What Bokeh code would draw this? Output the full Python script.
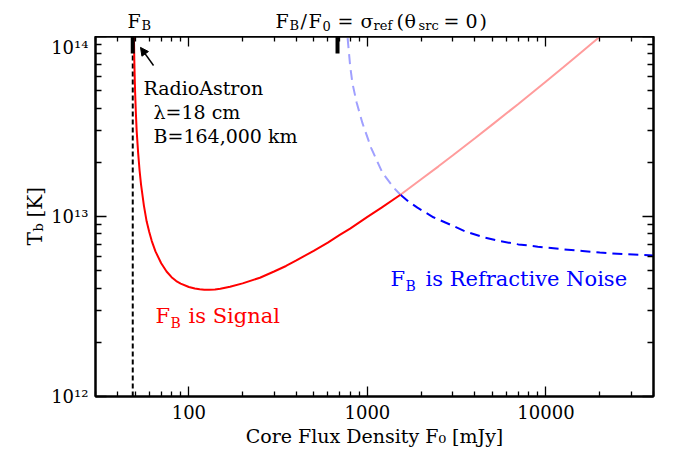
from math import pi
from bokeh.plotting import figure
from bokeh.layouts import row, column
from bokeh.models import (Range1d, FixedTicker, LogAxis, Label, Arrow, NormalHead,
                          BasicTickFormatter)
from bokeh.embed import file_html
from bokeh.resources import INLINE

FONT = "DejaVu Serif"

# ---------------- data ----------------
X_MIN, X_MAX = 30, 40000
Y_MIN, Y_MAX = 1e12, 1e14

x_major = [100, 1000, 10000]
x_labels = ["100", "1000", "10000"]
x_minor = [30, 40, 50, 60, 70, 80, 90,
           200, 300, 400, 500, 600, 700, 800, 900,
           2000, 3000, 4000, 5000, 6000, 7000, 8000, 9000,
           20000, 30000, 40000]
y_major = [1e12, 1e13, 1e14]
y_labels = ["10¹²", "10¹³", "10¹⁴"]
y_minor = [2e12, 3e12, 4e12, 5e12, 6e12, 7e12, 8e12, 9e12,
           2e13, 3e13, 4e13, 5e13, 6e13, 7e13, 8e13, 9e13]

F_B = 48.5            # RadioAstron F_B (mJy)
F_B_over_sigma = 680  # F_B / sigma_ref(theta_src = 0)

# F_B is signal (red), solid part and continuation (pale)
signal_f0 = [49.1, 49.5, 49.8, 50, 50.5, 51, 52, 53, 54, 56, 58, 60, 62, 65, 70,
             75, 80, 85, 90, 100, 108, 115, 122, 130, 140, 150, 170, 200, 250,
             300, 350, 400, 500, 600, 700, 800, 1000, 1200, 1531]
signal_tb = [1.2e14, 7.3e13, 5.65e13, 4.9e13, 3.75e13, 3.0e13, 2.25e13, 1.79e13,
             1.5e13, 1.15e13, 9.4e12, 8.2e12, 7.3e12, 6.4e12, 5.5e12,
             4.95e12, 4.6e12, 4.38e12, 4.24e12, 4.06e12, 3.98e12, 3.94e12,
             3.92e12, 3.92e12, 3.93e12, 3.97e12, 4.07e12, 4.25e12, 4.57e12,
             4.95e12, 5.31e12, 5.7e12, 6.45e12, 7.16e12, 7.9e12, 8.56e12,
             9.95e12, 1.12e13, 1.32e13]
signal_hi_f0 = [1531, 2000, 2500, 3000, 4000, 5000, 7000, 10000, 12500, 15000,
                20000, 21000]
signal_hi_tb = [1.32e13, 1.61e13, 1.9e13, 2.18e13, 2.72e13, 3.24e13, 4.22e13,
                5.63e13, 6.75e13, 7.85e13, 9.96e13, 1.04e14]

# F_B is refractive noise (blue): pale part and solid part
noise_lo_f0 = [760, 773, 800, 824, 870, 938, 1050, 1213, 1399, 1531]
noise_lo_tb = [1.2e14, 1.0e14, 6.9e13, 5.5e13, 4.3e13, 3.3e13, 2.4e13, 1.75e13,
               1.45e13, 1.32e13]
noise_f0 = [1531, 1700, 1905, 2342, 2917, 3500, 4400, 5500, 7000, 9000, 12000,
            16000, 20000, 28000, 40000]
noise_tb = [1.32e13, 1.21e13, 1.12e13, 9.9e12, 9.0e12, 8.3e12, 7.7e12, 7.3e12,
            7.0e12, 6.8e12, 6.6e12, 6.43e12, 6.3e12, 6.17e12, 6.07e12]

arrow_tail = (63.4, 6.9e13)
arrow_head = (53.6, 8.7e13)

# ---------------- layout geometry (screenshot pixels) ----------------
LEFT_W = 48            # strip holding the y-axis title
HEAD_H = 36            # strip holding the top annotations
MAIN_W, MAIN_H = 624, 416
FRAME_L, FRAME_R = 95, 653
FRAME_T, FRAME_B = 36, 396
BORDER_L = FRAME_L - LEFT_W
BORDER_R = LEFT_W + MAIN_W - FRAME_R
BORDER_B = HEAD_H + MAIN_H - FRAME_B
PX_PER_DEC = 180.0
TICK_LEN = 17

RED, PINK = "#ff0000", "#ff9c9c"
BLUE, LBLUE = "#0000ff", "#a0a0ff"

# ---------------- main figure ----------------
p = figure(width=MAIN_W, height=MAIN_H, x_axis_type="log", y_axis_type="log",
           x_range=Range1d(X_MIN, X_MAX), y_range=Range1d(Y_MIN, Y_MAX),
           output_backend="svg", toolbar_location=None,
           min_border_left=BORDER_L, min_border_right=BORDER_R,
           min_border_top=0, min_border_bottom=BORDER_B)
p.grid.visible = False
p.outline_line_color = "black"
p.outline_line_width = 2
p.background_fill_color = "white"
p.border_fill_color = "white"


def style_axis(ax, major_in, minor_in):
    ax.axis_line_color = "black"
    ax.axis_line_width = 2
    ax.major_tick_in = major_in
    ax.major_tick_out = 0
    ax.minor_tick_in = minor_in
    ax.minor_tick_out = 0
    ax.major_tick_line_width = 1.3
    ax.minor_tick_line_width = 1.3
    ax.major_tick_line_color = "black"
    ax.minor_tick_line_color = "black"
    ax.major_label_text_font = FONT
    ax.major_label_text_font_size = "18px"
    ax.major_label_text_color = "black"


xt = FixedTicker(ticks=x_major, minor_ticks=x_minor)
yt = FixedTicker(ticks=y_major, minor_ticks=y_minor)

xb = p.below[0]
xb.ticker = xt
xb.formatter = BasicTickFormatter(use_scientific=False)
xb.major_label_overrides = dict(zip(x_major, x_labels))
style_axis(xb, 10, 5)
xb.major_label_standoff = 8
xb.axis_label = "Core Flux Density F₀ [mJy]"
xb.axis_label_text_font = FONT
xb.axis_label_text_font_size = "19px"
xb.axis_label_text_font_style = "normal"
xb.axis_label_text_color = "black"
xb.axis_label_standoff = 3

yl = p.left[0]
yl.ticker = yt
yl.formatter = BasicTickFormatter()
yl.major_label_overrides = dict(zip(y_major, y_labels))
style_axis(yl, 11, 6)
yl.major_label_standoff = 7
yl.axis_label = None

top = LogAxis(ticker=xt, formatter=BasicTickFormatter(use_scientific=False),
              major_label_overrides={t: "" for t in x_major})
style_axis(top, 10, 5)
top.major_label_text_font_size = "0px"
top.major_label_standoff = 0
p.add_layout(top, "above")

right = LogAxis(ticker=yt, formatter=BasicTickFormatter(),
                major_label_overrides={t: "" for t in y_major})
style_axis(right, 11, 6)
right.major_label_text_font_size = "0px"
right.major_label_standoff = 0
p.add_layout(right, "right")

p.segment(x0=[F_B], y0=[Y_MIN], x1=[F_B], y1=[Y_MAX], line_color="black",
          line_width=2, line_dash="5 3")
p.line(noise_lo_f0, noise_lo_tb, line_color=LBLUE, line_width=2, line_dash="10 6")
p.line(signal_hi_f0, signal_hi_tb, line_color=PINK, line_width=2)
p.line(noise_f0, noise_tb, line_color=BLUE, line_width=2, line_dash="10 6")
p.line(signal_f0, signal_tb, line_color=RED, line_width=2)

tick_end = Y_MAX * 10 ** (-TICK_LEN / PX_PER_DEC)
p.segment(x0=[F_B, F_B_over_sigma], y0=[Y_MAX, Y_MAX],
          x1=[F_B, F_B_over_sigma], y1=[tick_end, tick_end],
          line_color="black", line_width=4)

p.add_layout(Arrow(end=NormalHead(size=8, fill_color="black", line_color="black"),
                   x_start=arrow_tail[0], y_start=arrow_tail[1],
                   x_end=arrow_head[0], y_end=arrow_head[1],
                   line_color="black", line_width=1.5))


def put(text, px, py, size, color="black"):
    """Text inside the main frame, positioned in screenshot pixels."""
    p.add_layout(Label(x=X_MIN, y=Y_MIN, x_offset=px - FRAME_L,
                       y_offset=FRAME_B - py, text=text, text_font=FONT,
                       text_font_size=f"{size}px", text_color=color,
                       text_align="left", text_baseline="alphabetic"))


put("RadioAstron", 143, 87, 19)
put("λ=18 cm", 153, 111, 19)
put("B=164,000 km", 153, 135, 19)

put("F", 155, 315, 21, RED)
put("B", 170, 322, 14, RED)
put("is Signal", 188, 315, 21, RED)

put("F", 390, 278, 21, BLUE)
put("B", 405, 285, 14, BLUE)
put("is Refractive Noise", 425, 278, 21, BLUE)


# ---------------- strips for texts outside the frame ----------------
def strip(w, h, x0, x1, y0, y1, bl, br, bt, bb):
    f = figure(width=w, height=h, x_range=Range1d(x0, x1),
               y_range=Range1d(y1, y0), output_backend="svg",
               toolbar_location=None, x_axis_location=None,
               y_axis_location=None, min_border_left=bl, min_border_right=br,
               min_border_top=bt, min_border_bottom=bb)
    f.grid.visible = False
    f.outline_line_color = None
    f.background_fill_color = "white"
    f.border_fill_color = "white"
    return f


def put_on(f, text, px, py, size, angle=0.0):
    f.add_layout(Label(x=px, y=py, text=text, text_font=FONT,
                       text_font_size=f"{size}px", text_color="black",
                       text_align="left", text_baseline="alphabetic",
                       angle=angle))


# left strip: frame spans x 0..48, y FRAME_T..FRAME_B
left = strip(LEFT_W, HEAD_H + MAIN_H, 0, LEFT_W, FRAME_T, FRAME_B,
             0, 0, FRAME_T, BORDER_B)
put_on(left, "T", 34, 245, 20, pi / 2)
put_on(left, "b", 38, 231, 13, pi / 2)
put_on(left, "[K]", 34, 217, 20, pi / 2)

# header strip: frame spans x FRAME_L..FRAME_R, y 0..36
head = strip(MAIN_W, HEAD_H, FRAME_L, FRAME_R, 0, HEAD_H,
             BORDER_L, BORDER_R, 0, 0)
put_on(head, "F", 127, 20, 19)
put_on(head, "B", 141, 25, 13)

put_on(head, "F", 275, 20, 19)
put_on(head, "B", 289, 25, 13)
put_on(head, "/", 300, 20, 19)
put_on(head, "F", 308, 20, 19)
put_on(head, "0", 322, 25, 13)
put_on(head, "=", 337, 20, 19)
put_on(head, "σ", 360, 20, 19)
put_on(head, "ref", 373, 25, 13)
put_on(head, "(", 396, 20, 19)
put_on(head, "θ", 404, 20, 19)
put_on(head, "src", 418, 25, 13)
put_on(head, "=", 443, 20, 19)
put_on(head, "0", 465, 20, 19)
put_on(head, ")", 479, 20, 19)

layout = row(left, column(head, p))
open("out.html", "w").write(file_html(layout, INLINE))
